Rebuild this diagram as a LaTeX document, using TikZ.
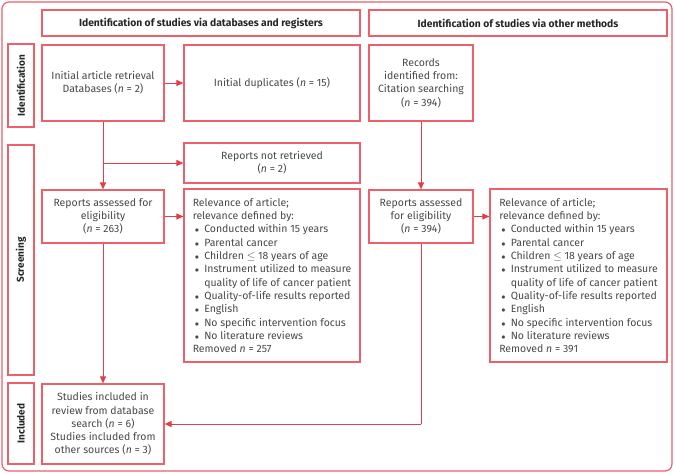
\documentclass[tikz,border=0pt]{standalone}
\usepackage{fontspec}
\setmainfont{Fira Sans}
\usetikzlibrary{arrows.meta}
\definecolor{boxred}{RGB}{236,96,106}
\definecolor{arrred}{RGB}{226,62,74}
\definecolor{txt}{RGB}{72,72,72}
\newcommand{\bul}{\makebox[11.5pt][l]{\hspace{2pt}{\fontsize{8.5}{8.5}\selectfont$\bullet$}}}
\newcommand{\ind}{\hspace*{11.5pt}}
\begin{document}
\begin{tikzpicture}[x=1pt,y=-1pt,
  box/.style={draw=boxred, line width=1.2pt, inner sep=0pt, align=center, text=txt,
    font=\fontsize{10.5}{13.3}\selectfont},
  hdr/.style={box, font=\fontsize{10.3}{11}\selectfont\bfseries, text=black!85},
  side/.style={box, rotate=90, font=\fontsize{10}{11}\selectfont\bfseries, text=black!85},
  arr/.style={draw=arrred, line width=1pt, -{Triangle[length=7pt,width=6pt]}},
  ln/.style={draw=arrred, line width=1pt}]
\useasboundingbox (0,0) rectangle (675,474);
\draw[boxred, line width=1.2pt, rounded corners=7pt] (2,2) rectangle (672,471);
% headers
\node[hdr, minimum width=318pt, minimum height=26pt] (hdrA) at (201,23) {Identification of studies via databases and registers};
\node[hdr, minimum width=298pt, minimum height=26pt] (hdrB) at (518,23) {Identification of studies via other methods};
% side labels
\node[side, minimum width=83pt, minimum height=26pt] (sideId) at (21,85.5) {Identification};
\node[side, minimum width=230pt, minimum height=26pt] (sideSc) at (21,260) {Screening};
\node[side, minimum width=81pt, minimum height=26pt] (sideIn) at (21,423.5) {Included};
% left column
\node[box, minimum width=122pt, minimum height=76pt] (initA) at (103,83)
  {Initial article retrieval\\Databases (\textit{n} = 2)};
\node[box, minimum width=176pt, minimum height=76pt] (dup) at (272,83)
  {Initial duplicates (\textit{n} = 15)};
\node[box, minimum width=176pt, minimum height=40pt] (notret) at (272,163)
  {Reports not retrieved\\(\textit{n} = 2)};
\node[box, minimum width=122pt, minimum height=53pt] (repA) at (103,216.5)
  {Reports assessed for\\eligibility\\(\textit{n} = 263)};
\node[box, minimum width=176pt, minimum height=173pt, align=left] (relA) at (272,275.5)
  {Relevance of article;\\relevance defined by:\\
   \bul Conducted within 15 years\\
   \bul Parental cancer\\
   \bul Children $\leq$ 18 years of age\\
   \bul Instrument utilized to measure\\
   \ind quality of life of cancer patient\\
   \bul Quality-of-life results reported\\
   \bul English\\
   \bul No specific intervention focus\\
   \bul No literature reviews\\
   Removed \textit{n} = 257};
\node[box, minimum width=122pt, minimum height=80pt] (incl) at (103,424)
  {Studies included in\\review from database\\search (\textit{n} = 6)\\Studies included from\\other sources (\textit{n} = 3)};
% right column
\node[box, minimum width=104pt, minimum height=76pt] (recB) at (421,83)
  {Records\\identified from:\\Citation searching\\(\textit{n} = 394)};
\node[box, minimum width=104pt, minimum height=53pt] (repB) at (421,216.5)
  {Reports assessed\\for eligibility\\(\textit{n} = 394)};
\node[box, minimum width=177pt, minimum height=173pt, align=left] (relB) at (578.5,275.5)
  {Relevance of article;\\relevance defined by:\\
   \bul Conducted within 15 years\\
   \bul Parental cancer\\
   \bul Children $\leq$ 18 years of age\\
   \bul Instrument utilized to measure\\
   \ind quality of life of cancer patient\\
   \bul Quality-of-life results reported\\
   \bul English\\
   \bul No specific intervention focus\\
   \bul No literature reviews\\
   Removed \textit{n} = 391};
% connectors
\coordinate (brA) at (initA.south |- notret.west);
\draw[arr] (initA.east) -- (dup.west);
\draw[arr] (initA.south) -- (repA.north);
\draw[arr] (brA) -- (notret.west);
\draw[arr] (repA.east) -- (repA.east -| relA.west);
\draw[arr] (repA.south) -- (incl.north);
\draw[arr] (recB.south) -- (repB.north);
\draw[arr] (repB.east) -- (repB.east -| relB.west);
\coordinate (brB) at (repB.south |- incl.east);
\draw[ln] (repB.south) -- (brB);
\draw[arr] (brB) -- (incl.east);
\end{tikzpicture}
\end{document}
